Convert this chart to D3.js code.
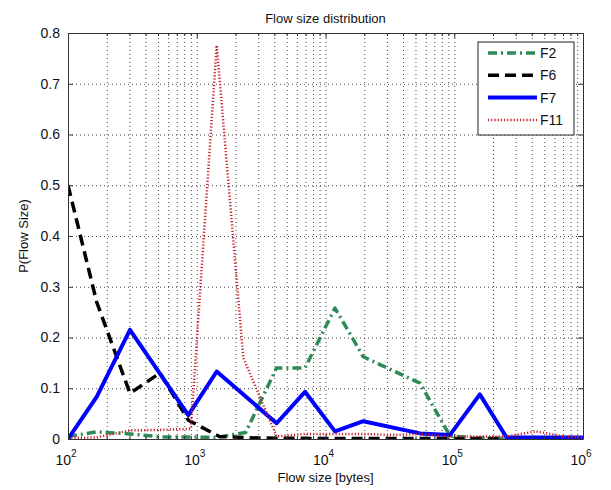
<!DOCTYPE html>
<html>
<head>
<meta charset="utf-8">
<script src="https://cdn.jsdelivr.net/npm/d3@7"></script>
<style>
  body { margin: 0; background: #fff; }
  text { font-family: Arial, "Liberation Sans", sans-serif; fill: #111; }
</style>
</head>
<body>
<div id="vis"></div>
<script>
// Flow sizes (bytes) and probabilities
var f2Size = [100, 167, 303, 530, 860, 1429, 2400, 4170, 6930, 11850, 19660, 54200, 92700, 158000, 255000, 1000000];
var f2Prob = [0.005, 0.014, 0.01, 0.004, 0.004, 0.003, 0.013, 0.14, 0.14, 0.258, 0.162, 0.11, 0.006, 0.002, 0.001, 0.001];

var f6Size = [100, 167, 303, 518, 860, 1500, 3000, 10000, 100000, 1000000];
var f6Prob = [0.5, 0.27, 0.09, 0.13, 0.037, 0.005, 0.002, 0.001, 0.001, 0.001];

var f7Size = [100, 167, 303, 860, 1429, 4170, 6930, 11850, 19660, 54200, 92700, 158000, 255000, 1000000];
var f7Prob = [0.0, 0.083, 0.215, 0.047, 0.133, 0.031, 0.093, 0.015, 0.035, 0.011, 0.008, 0.088, 0.003, 0.003];

var f11Size = [100, 167, 303, 530, 900, 1429, 2300, 4170, 6930, 11850, 19660, 33000, 54200, 92700, 158000, 255000, 430000, 720000, 1000000];
var f11Prob = [0.002, 0.003, 0.017, 0.018, 0.02, 0.776, 0.16, 0.005, 0.01, 0.01, 0.01, 0.008, 0.01, 0.005, 0.005, 0.005, 0.015, 0.005, 0.003];

var yTicks = [0, 0.1, 0.2, 0.3, 0.4, 0.5, 0.6, 0.7, 0.8];
var xTicks = [1e2, 1e3, 1e4, 1e5, 1e6];
var xTickExp = ["2", "3", "4", "5", "6"];

var seriesNames = ["F2", "F6", "F7", "F11"];

var W = 611, H = 490;
var pLeft = 68, pRight = 583, pTop = 33, pBottom = 439;

var x = d3.scaleLog().domain([1e2, 1e6]).range([pLeft, pRight]);
var y = d3.scaleLinear().domain([0, 0.8]).range([pBottom, pTop]);

var svg = d3.select("#vis").append("svg")
    .attr("width", W)
    .attr("height", H);

svg.append("rect").attr("width", W).attr("height", H).attr("fill", "#fff");

svg.append("defs").append("clipPath").attr("id", "plotclip")
    .append("rect")
    .attr("x", pLeft).attr("y", pTop)
    .attr("width", pRight - pLeft).attr("height", pBottom - pTop);

// minor log values for grid + small ticks
var minorX = [];
[1e2, 1e3, 1e4, 1e5].forEach(function(d) {
    for (var k = 2; k <= 9; k++) minorX.push(d * k);
});

// grid lines (dotted)
var grid = svg.append("g").attr("class", "grid");
grid.append("g")
    .attr("transform", "translate(0," + pBottom + ")")
    .call(d3.axisBottom(x).tickValues(minorX.concat(xTicks.slice(1, 4))).tickSize(-(pBottom - pTop)).tickFormat(""));
grid.append("g")
    .attr("transform", "translate(" + pLeft + ",0)")
    .call(d3.axisLeft(y).tickValues(yTicks.slice(1, 8)).tickSize(-(pRight - pLeft)).tickFormat(""));
grid.selectAll(".domain").remove();
grid.selectAll("line")
    .attr("stroke", "#444")
    .attr("stroke-width", 1)
    .attr("stroke-dasharray", "1,3");

// series lines
var line = d3.line()
    .x(function(d) { return x(d[0]); })
    .y(function(d) { return y(d[1]); });

var plot = svg.append("g").attr("clip-path", "url(#plotclip)");

var series = [
    { size: f2Size, prob: f2Prob, color: "#2e8b57", width: 3.5, dash: "9,4,2,4" },
    { size: f6Size, prob: f6Prob, color: "#000", width: 3.5, dash: "11,6" },
    { size: f7Size, prob: f7Prob, color: "#0000ff", width: 4, dash: null },
    { size: f11Size, prob: f11Prob, color: "#cc1f2a", width: 2.5, dash: "1.2,2" }
];

series.forEach(function(s) {
    plot.append("path")
        .datum(d3.zip(s.size, s.prob))
        .attr("d", line)
        .attr("fill", "none")
        .attr("stroke", s.color)
        .attr("stroke-width", s.width)
        .attr("stroke-linejoin", "round")
        .attr("stroke-dasharray", s.dash);
});

// axes box with inward ticks
function styleAxis(g) {
    g.selectAll(".domain").attr("stroke", "#333").attr("stroke-width", 1);
    g.selectAll(".tick line").attr("stroke", "#333");
    g.selectAll("text").style("font-size", "14px").attr("fill", "#111");
}

svg.append("g")
    .attr("transform", "translate(" + pLeft + ",0)")
    .call(d3.axisLeft(y).tickValues(yTicks).tickSizeInner(-5).tickSizeOuter(0).tickPadding(8)
        .tickFormat(function(d) { return d === 0 ? "0" : d3.format(".1f")(d); }))
    .call(styleAxis);

svg.append("g")
    .attr("transform", "translate(" + pRight + ",0)")
    .call(d3.axisRight(y).tickValues(yTicks).tickSizeInner(-5).tickSizeOuter(0).tickFormat(""))
    .call(styleAxis);

svg.append("g")
    .attr("transform", "translate(0," + pBottom + ")")
    .call(d3.axisBottom(x).tickValues(xTicks).tickSizeInner(-5).tickSizeOuter(0).tickFormat(""))
    .call(styleAxis);

svg.append("g")
    .attr("transform", "translate(0," + pTop + ")")
    .call(d3.axisTop(x).tickValues(xTicks).tickSizeInner(-5).tickSizeOuter(0).tickFormat(""))
    .call(styleAxis);

// minor ticks bottom/top
svg.append("g")
    .attr("transform", "translate(0," + pBottom + ")")
    .call(d3.axisBottom(x).tickValues(minorX).tickSizeInner(-3).tickSizeOuter(0).tickFormat(""))
    .call(styleAxis)
    .select(".domain").remove();
svg.append("g")
    .attr("transform", "translate(0," + pTop + ")")
    .call(d3.axisTop(x).tickValues(minorX).tickSizeInner(-3).tickSizeOuter(0).tickFormat(""))
    .call(styleAxis)
    .select(".domain").remove();

// x tick labels as 10 with superscript exponent
var xLab = svg.append("g");
xTicks.forEach(function(v, i) {
    var t = xLab.append("text")
        .attr("x", x(v) - 2)
        .attr("y", pBottom + 26)
        .attr("text-anchor", "middle")
        .style("font-size", "14px");
    t.append("tspan").text("10");
    t.append("tspan").attr("dy", -8).style("font-size", "10px").text(xTickExp[i]);
});

// title and axis labels
svg.append("text")
    .attr("x", (pLeft + pRight) / 2)
    .attr("y", 23)
    .attr("text-anchor", "middle")
    .style("font-size", "13px")
    .text("Flow size distribution");

svg.append("text")
    .attr("x", (pLeft + pRight) / 2)
    .attr("y", 482)
    .attr("text-anchor", "middle")
    .style("font-size", "13px")
    .text("Flow size [bytes]");

svg.append("text")
    .attr("transform", "translate(28," + ((pTop + pBottom) / 2) + ") rotate(-90)")
    .attr("text-anchor", "middle")
    .style("font-size", "13px")
    .text("P(Flow Size)");

// legend
var lg = svg.append("g");
lg.append("rect")
    .attr("x", 478).attr("y", 42)
    .attr("width", 96).attr("height", 93)
    .attr("fill", "#fff")
    .attr("stroke", "#222")
    .attr("stroke-width", 1);

series.forEach(function(s, i) {
    var ly = 53 + i * 22.3;
    lg.append("line")
        .attr("x1", 488).attr("x2", 537)
        .attr("y1", ly).attr("y2", ly)
        .attr("stroke", s.color)
        .attr("stroke-width", s.width)
        .attr("stroke-dasharray", s.dash);
    lg.append("text")
        .attr("x", 540)
        .attr("y", ly + 5)
        .style("font-size", "14px")
        .text(seriesNames[i]);
});
</script>
</body>
</html>
